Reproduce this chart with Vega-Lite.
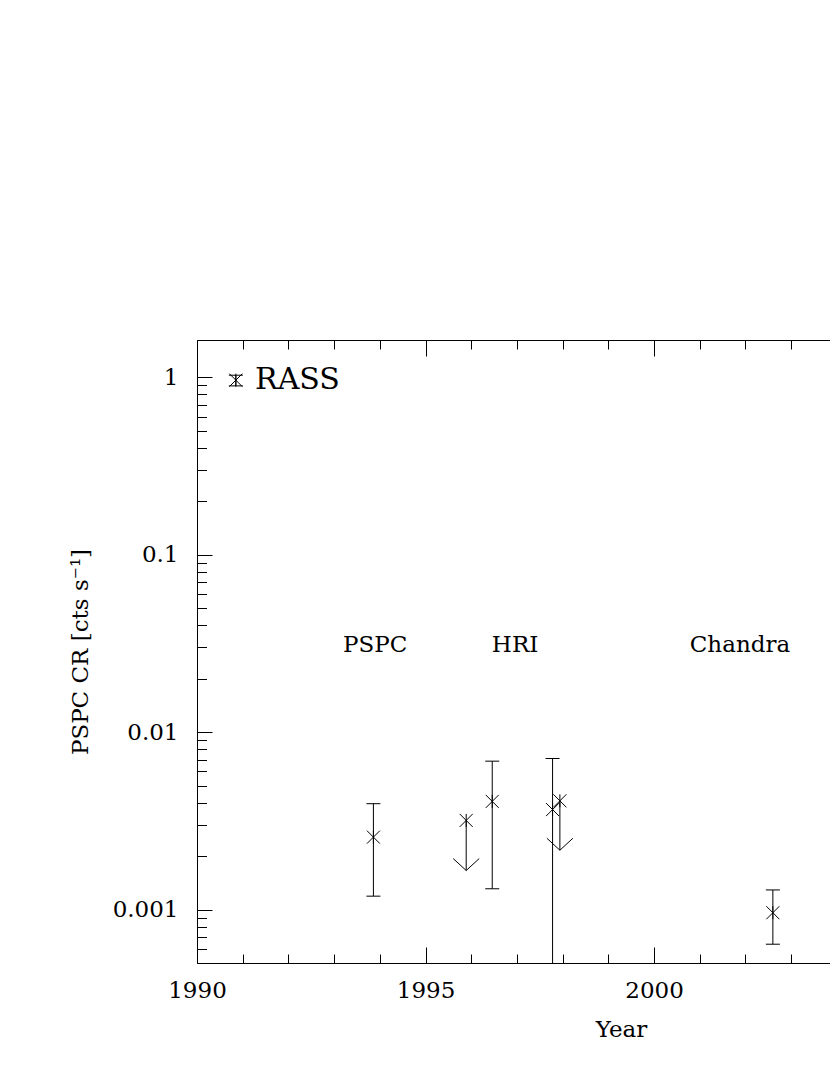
{
  "$schema": "https://vega.github.io/schema/vega-lite/v6.json",
  "width": 633,
  "height": 623,
  "autosize": {"type": "none"},
  "padding": {"left": 197, "top": 340, "right": 0, "bottom": 112},
  "background": "white",
  "config": {
    "view": {"stroke": null},
    "axis": {
      "grid": false,
      "domainColor": "black",
      "domainWidth": 1,
      "tickColor": "black",
      "tickWidth": 1,
      "labelFont": "DejaVu Serif",
      "labelFontSize": 23,
      "labelColor": "black",
      "labelFlush": false,
      "labelOverlap": false,
      "titleFont": "DejaVu Serif",
      "titleFontSize": 23,
      "titleFontWeight": "normal",
      "titleColor": "black"
    }
  },
  "datasets": {
    "pts": [
      {"inst": "RASS", "year": 1990.85, "cr": 0.962, "lo": 0.893, "hi": 1.026, "kind": "det"},
      {"inst": "PSPC", "year": 1993.86, "cr": 0.00256, "lo": 0.00119, "hi": 0.00395, "kind": "det"},
      {"inst": "HRI", "year": 1995.89, "cr": 0.00318, "lo": 0.00166, "hi": 0.00318, "kind": "ul"},
      {"inst": "HRI", "year": 1996.46, "cr": 0.00407, "lo": 0.00131, "hi": 0.00686, "kind": "det"},
      {"inst": "HRI", "year": 1997.78, "cr": 0.00366, "lo": 0.0001, "hi": 0.0071, "kind": "det"},
      {"inst": "HRI", "year": 1997.94, "cr": 0.0041, "lo": 0.00216, "hi": 0.0041, "kind": "ul"},
      {"inst": "Chandra", "year": 2002.6, "cr": 0.00096, "lo": 0.000638, "hi": 0.00129, "kind": "det"}
    ],
    "labels": [
      {"label": "PSPC", "year": 1993.9, "cr": 0.031},
      {"label": "HRI", "year": 1996.96, "cr": 0.031},
      {"label": "Chandra", "year": 2001.88, "cr": 0.031}
    ],
    "rass": [
      {"label": "RASS", "year": 1991.27, "cr": 0.962}
    ]
  },
  "resolve": {
    "scale": {"x": "shared", "y": "shared"},
    "axis": {"x": "independent", "y": "independent"}
  },
  "layer": [
    {
      "data": {"name": "pts"},
      "mark": {"type": "rule", "color": "black", "strokeWidth": 1, "clip": true},
      "encoding": {
        "x": {
          "field": "year", "type": "quantitative",
          "scale": {"domain": [1990, 2003.85], "nice": false, "zero": false},
          "axis": {"orient": "bottom", "values": [1990, 1995, 2000], "format": "d", "tickSize": -16, "labelPadding": 32, "domain": true, "title": "Year", "titleX": 424, "titlePadding": 16}
        },
        "y": {
          "field": "lo", "type": "quantitative",
          "scale": {"type": "log", "domain": [0.0005, 1.62], "nice": false},
          "axis": {"orient": "left", "values": [0.001, 0.01, 0.1, 1], "format": "~g", "tickSize": -15, "labelPadding": 34, "domain": true, "title": "PSPC CR [cts s⁻¹]", "titlePadding": 20}
        },
        "y2": {"field": "hi"}
      }
    },
    {
      "data": {"name": "pts"},
      "transform": [{"filter": "datum.kind == 'det'"}],
      "mark": {"type": "point", "shape": "M-1,0L1,0", "size": 196, "filled": false, "color": "black", "strokeWidth": 1, "opacity": 1, "clip": true},
      "encoding": {
        "x": {
          "field": "year", "type": "quantitative",
          "scale": {"domain": [1990, 2003.85], "nice": false, "zero": false},
          "axis": {"orient": "bottom", "values": [1991, 1992, 1993, 1994, 1996, 1997, 1998, 1999, 2001, 2002, 2003], "labels": false, "tickSize": -9, "domain": false, "title": null}
        },
        "y": {
          "field": "lo", "type": "quantitative",
          "scale": {"type": "log", "domain": [0.0005, 1.62], "nice": false},
          "axis": {"orient": "left", "values": [0.0005, 0.0006, 0.0007, 0.0008, 0.0009, 0.002, 0.003, 0.004, 0.005, 0.006, 0.007, 0.008, 0.009, 0.02, 0.03, 0.04, 0.05, 0.06, 0.07, 0.08, 0.09, 0.2, 0.3, 0.4, 0.5, 0.6, 0.7, 0.8, 0.9], "labels": false, "tickSize": -9.5, "domain": false, "title": null}
        }
      }
    },
    {
      "data": {"name": "pts"},
      "transform": [{"filter": "datum.kind == 'det'"}],
      "mark": {"type": "point", "shape": "M-1,0L1,0", "size": 196, "filled": false, "color": "black", "strokeWidth": 1, "opacity": 1, "clip": true},
      "encoding": {
        "x": {
          "field": "year", "type": "quantitative",
          "scale": {"domain": [1990, 2003.85], "nice": false, "zero": false},
          "axis": {"orient": "top", "values": [1990, 1995, 2000], "labels": false, "tickSize": -16, "domain": true, "title": null}
        },
        "y": {
          "field": "hi", "type": "quantitative",
          "scale": {"type": "log", "domain": [0.0005, 1.62], "nice": false},
          "axis": null
        }
      }
    },
    {
      "data": {"name": "pts"},
      "mark": {"type": "point", "shape": "M0,-1L0,1M-1,-1L1,1M-1,1L1,-1", "size": 169, "filled": false, "color": "black", "strokeWidth": 1, "opacity": 1},
      "encoding": {
        "x": {
          "field": "year", "type": "quantitative",
          "scale": {"domain": [1990, 2003.85], "nice": false, "zero": false},
          "axis": {"orient": "top", "values": [1991, 1992, 1993, 1994, 1996, 1997, 1998, 1999, 2001, 2002, 2003], "labels": false, "tickSize": -9, "domain": false, "title": null}
        },
        "y": {
          "field": "cr", "type": "quantitative",
          "scale": {"type": "log", "domain": [0.0005, 1.62], "nice": false},
          "axis": null
        }
      }
    },
    {
      "data": {"name": "pts"},
      "transform": [{"filter": "datum.kind == 'ul'"}],
      "mark": {"type": "point", "shape": "M-1,-0.92L0,0L1,-0.92", "size": 676, "filled": false, "color": "black", "strokeWidth": 1, "opacity": 1},
      "encoding": {
        "x": {
          "field": "year", "type": "quantitative",
          "scale": {"domain": [1990, 2003.85], "nice": false, "zero": false},
          "axis": null
        },
        "y": {
          "field": "lo", "type": "quantitative",
          "scale": {"type": "log", "domain": [0.0005, 1.62], "nice": false},
          "axis": null
        }
      }
    },
    {
      "data": {"name": "labels"},
      "mark": {"type": "text", "font": "DejaVu Serif", "fontSize": 23, "color": "black", "align": "center", "baseline": "middle"},
      "encoding": {
        "x": {
          "field": "year", "type": "quantitative",
          "scale": {"domain": [1990, 2003.85], "nice": false, "zero": false},
          "axis": null
        },
        "y": {
          "field": "cr", "type": "quantitative",
          "scale": {"type": "log", "domain": [0.0005, 1.62], "nice": false},
          "axis": null
        },
        "text": {"field": "label"}
      }
    },
    {
      "data": {"name": "rass"},
      "mark": {"type": "text", "font": "DejaVu Serif", "fontSize": 30, "color": "black", "align": "left", "baseline": "middle"},
      "encoding": {
        "x": {
          "field": "year", "type": "quantitative",
          "scale": {"domain": [1990, 2003.85], "nice": false, "zero": false},
          "axis": null
        },
        "y": {
          "field": "cr", "type": "quantitative",
          "scale": {"type": "log", "domain": [0.0005, 1.62], "nice": false},
          "axis": null
        },
        "text": {"field": "label"}
      }
    }
  ]
}
